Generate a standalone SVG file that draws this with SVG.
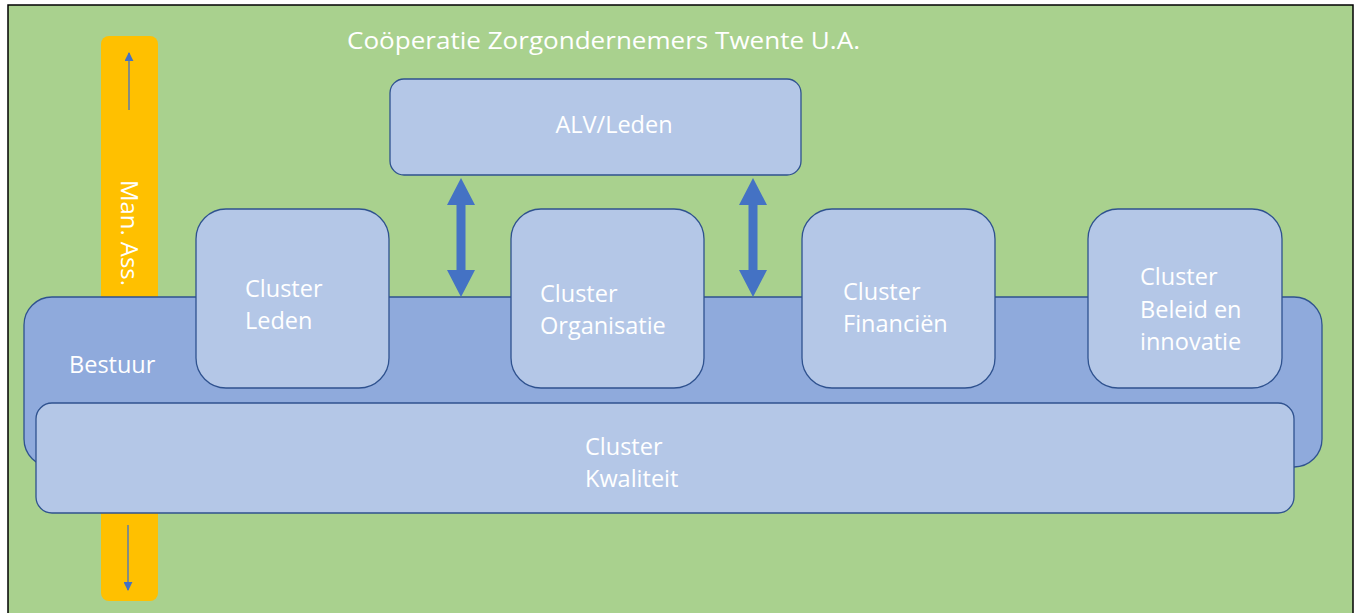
<svg xmlns="http://www.w3.org/2000/svg" width="1359" height="613" viewBox="0 0 1359 613">
<defs>
<style>
.t{font-family:"Open Sans","Noto Sans","Liberation Sans",sans-serif;font-size:23.5px;fill:#ffffff}
.box{fill:#B4C7E7;stroke:#2F528F;stroke-width:1.3}
.thin{stroke:#4472C4;stroke-width:1.3;fill:none}
</style>
<marker id="ah" viewBox="0 0 10 10" refX="9" refY="5" markerWidth="9" markerHeight="9" markerUnits="userSpaceOnUse" orient="auto">
<path d="M0,0 L10,5 L0,10 z" fill="#4472C4"/>
</marker>
</defs>
<rect x="0" y="0" width="1359" height="613" fill="#ffffff"/>
<g id="background">
<rect x="8" y="5" width="1345" height="612" fill="#A9D18E" stroke="#000000" stroke-width="1.5"/>
<text class="t" x="347" y="49" font-size="25.5" textLength="513" lengthAdjust="spacingAndGlyphs">Coöperatie Zorgondernemers Twente U.A.</text>
</g>
<g id="man-ass">
<rect x="101" y="36" width="57" height="565" rx="8" fill="#FFC000"/>
<text class="t" transform="translate(121,180) rotate(90)" font-size="25" textLength="106" lengthAdjust="spacingAndGlyphs">Man. Ass.</text>
</g>
<g id="bestuur">
<rect class="box" x="24" y="297" width="1298" height="170" rx="28" style="fill:#8FAADC"/>
<text class="t" x="69" y="373">Bestuur</text>
</g>
<g id="kwaliteit">
<rect class="box" x="36" y="403" width="1258" height="110" rx="16"/>
<text class="t" x="585" y="455">Cluster</text>
<text class="t" x="585" y="487">Kwaliteit</text>
</g>
<g id="alv">
<rect class="box" x="390" y="79" width="411" height="96" rx="14"/>
<text class="t" x="614" y="133" text-anchor="middle">ALV/Leden</text>
</g>
<g id="leden">
<rect class="box" x="196" y="209" width="193" height="179" rx="30"/>
<text class="t" x="245" y="297">Cluster</text>
<text class="t" x="245" y="329">Leden</text>
</g>
<g id="organisatie">
<rect class="box" x="511" y="209" width="193" height="179" rx="30"/>
<text class="t" x="540" y="302">Cluster</text>
<text class="t" x="540" y="334">Organisatie</text>
</g>
<g id="financien">
<rect class="box" x="802" y="209" width="193" height="179" rx="30"/>
<text class="t" x="843" y="300">Cluster</text>
<text class="t" x="843" y="332">Financiën</text>
</g>
<g id="beleid">
<rect class="box" x="1088" y="209" width="194" height="179" rx="30"/>
<text class="t" x="1140" y="285">Cluster</text>
<text class="t" x="1140" y="318">Beleid en</text>
<text class="t" x="1140" y="350">innovatie</text>
</g>
<g id="connectors">
<path d="M461,178 L475,205 L465.5,205 L465.5,270 L475,270 L461,297 L447,270 L456.5,270 L456.5,205 L447,205 Z" fill="#4472C4"/>
<path d="M753,178 L767,205 L757.5,205 L757.5,270 L767,270 L753,297 L739,270 L748.5,270 L748.5,205 L739,205 Z" fill="#4472C4"/>
<line class="thin" x1="129" y1="110" x2="129" y2="53" marker-end="url(#ah)"/>
<line class="thin" x1="128" y1="525" x2="128" y2="590" marker-end="url(#ah)"/>
</g>
</svg>
